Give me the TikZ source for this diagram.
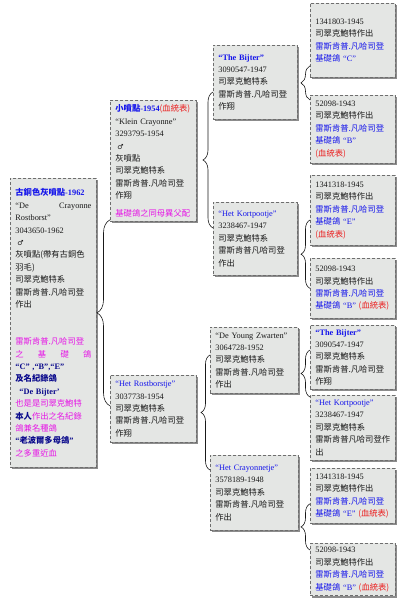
\documentclass[tikz,border=0pt]{standalone}
\usepackage{fontspec}
\setmainfont{Liberation Serif}
\newfontfamily\cjk{Noto Sans CJK TC}
\newfontfamily\symf{DejaVu Sans}
\usepackage{xcolor}
\usetikzlibrary{shadows, decorations.pathreplacing}
\definecolor{cBox}{RGB}{228,230,228}
\definecolor{cEdge}{RGB}{110,110,110}
\definecolor{cInk}{RGB}{25,25,25}
\definecolor{cTitle}{RGB}{20,20,235}
\definecolor{cNavy}{RGB}{10,10,140}
\definecolor{cPink}{RGB}{230,20,230}
\definecolor{cRed}{RGB}{235,30,30}
\newcommand{\zh}[1]{{\cjk #1}}
\newcommand{\male}{{\symf\fontsize{7}{7}\selectfont ♂}}
\tikzset{
	card/.style={rectangle, anchor=north west, draw=cEdge, line width=0.8pt, dash pattern=on 3pt off 2pt,
		fill=cBox, text=cInk, align=left, inner xsep=5pt, inner ysep=4pt,
		font=\fontsize{8.3}{12.4}\selectfont,
		drop shadow={shadow xshift=2pt, shadow yshift=-2pt, fill=black!45, opacity=1}},
	brc/.style={decorate, draw=cInk, line width=0.6pt},
}

\begin{document}
\begin{tikzpicture}[x=1pt, y=-1pt]
	\useasboundingbox (0,0) rectangle (400,599);
	% generation 1
	\node[card, text width=76pt, minimum height=289pt] (root) at (10,178) {
		{\bfseries\color{cTitle}\zh{古銅色灰噴點}-1962}\\
		``De\hfill Crayonne\\
		Rostborst''\\
		3043650-1962\\
		\hspace{2pt}\male\\
		\zh{灰噴點(帶有古銅色}\\
		\zh{羽毛)}\\
		\zh{司翠克鮑特系}\\
		\zh{雷斯肯普.凡哈司登}\\
		\zh{作出}\\[24.8pt]
		{\color{cPink}\zh{雷斯肯普.凡哈司登}}\\
		{\color{cPink}\zh{之\hfill 基\hfill 礎\hfill 鴿}}\\
		{\bfseries\color{cNavy}``C'' ,``B'',``E''}\\
		{\bfseries\color{cNavy}\zh{及名紀錄鴿}}\\
		\hspace{4pt}{\bfseries\color{cNavy}``De Bijter'}\\
		{\color{cPink}\zh{也是是司翠克鮑特}}\\
		{\bfseries\color{cNavy}\zh{本人}}{\color{cPink}\zh{作出之名紀錄}}\\
		{\color{cPink}\zh{鴿兼名種鴿}}\\
		{\bfseries\color{cNavy}``\zh{老波爾多母鴿}''}\\
		{\color{cPink}\zh{之多重近血}}};
	% generation 2
	\node[card, text width=76pt, minimum height=121pt] (kid1) at (110,100) {
		{\bfseries\color{cTitle}\zh{小噴點}-1954}{\color{cRed}\zh{(血統表)}}\\
		``Klein Crayonne''\\
		3293795-1954\\
		\hspace{2pt}\male\\
		\zh{灰噴點}\\
		\zh{司翠克鮑特系}\\
		\zh{雷斯肯普.凡哈司登}\\
		\zh{作翔}\\[5pt]
		{\color{cPink}\zh{基礎鴿之同母異父配}}};
	\node[card, text width=76pt, minimum height=67pt] (kid2) at (110,375) {
		{\color{cTitle}``Het Rostborstje''}\\
		3037738-1954\\
		\zh{司翠克鮑特系}\\
		\zh{雷斯肯普.凡哈司登}\\
		\zh{作翔}};
	% generation 3
	\node[card, text width=74pt, minimum height=74pt] (gk1) at (213,45) {
		{\bfseries\color{cTitle}``The Bijter''}\\
		3090547-1947\\
		\zh{司翠克鮑特系}\\
		\zh{雷斯肯普.凡哈司登}\\
		\zh{作翔}};
	\node[card, text width=74pt, minimum height=73pt] (gk2) at (213,202) {
		{\color{cTitle}``Het Kortpootje''}\\
		3238467-1947\\
		\zh{司翠克鮑特系}\\
		\zh{雷斯肯普凡哈司登}\\
		\zh{作出}};
	\node[card, text width=78pt, minimum height=66pt] (gk3) at (210,327) {
		``De Young Zwarten''\\
		3064728-1952\\
		\zh{司翠克鮑特系}\\
		\zh{雷斯肯普.凡哈司登}\\
		\zh{作出}};
	\node[card, text width=78pt, minimum height=75pt] (gk4) at (210,455) {
		{\color{cTitle}``Het Crayonnetje''}\\
		3578189-1948\\
		\zh{司翠克鮑特系}\\
		\zh{雷斯肯普.凡哈司登}\\
		\zh{作出}};
	% generation 4
	\node[card, text width=75pt, minimum height=74pt] (ggk1) at (310,3) {
		1341803-1945\\
		\zh{司翠克鮑特作出}\\
		{\color{cTitle}\zh{雷斯肯普.凡哈司登}}\\
		{\color{cTitle}\zh{基礎鴿} ``C''}};
	\node[card, text width=75pt, minimum height=68pt] (ggk2) at (310,95) {
		52098-1943\\
		\zh{司翠克鮑特作出}\\
		{\color{cTitle}\zh{雷斯肯普.凡哈司登}}\\
		{\color{cTitle}\zh{基礎鴿} ``B''}\\
		{\color{cRed}\zh{(血統表)}}};
	\node[card, text width=75pt, minimum height=70pt] (ggk3) at (310,175) {
		1341318-1945\\
		\zh{司翠克鮑特作出}\\
		{\color{cTitle}\zh{雷斯肯普.凡哈司登}}\\
		{\color{cTitle}\zh{基礎鴿} ``E''}\\
		{\color{cRed}\zh{(血統表)}}};
	\node[card, text width=75pt, minimum height=60pt] (ggk4) at (310,258) {
		52098-1943\\
		\zh{司翠克鮑特作出}\\
		{\color{cTitle}\zh{雷斯肯普.凡哈司登}}\\
		{\color{cTitle}\zh{基礎鴿} ``B''} {\color{cRed}\zh{(血統表)}}};
	\node[card, text width=75pt, minimum height=62pt] (ggk5) at (310,325) {
		{\bfseries\color{cTitle}``The Bijter''}\\
		3090547-1947\\
		\zh{司翠克鮑特系}\\
		\zh{雷斯肯普.凡哈司登}\\
		\zh{作翔}};
	\node[card, text width=75pt, minimum height=65pt] (ggk6) at (310,395) {
		{\color{cTitle}``Het Kortpootje''}\\
		3238467-1947\\
		\zh{司翠克鮑特系}\\
		\zh{雷斯肯普凡哈司登作}\\
		\zh{出}};
	\node[card, text width=75pt, minimum height=55pt] (ggk7) at (310,468) {
		1341318-1945\\
		\zh{司翠克鮑特作出}\\
		{\color{cTitle}\zh{雷斯肯普.凡哈司登}}\\
		{\color{cTitle}\zh{基礎鴿} ``E''} {\color{cRed}\zh{(血統表)}}};
	\node[card, text width=75pt, minimum height=52pt] (ggk8) at (310,543) {
		52098-1943\\
		\zh{司翠克鮑特作出}\\
		{\color{cTitle}\zh{雷斯肯普.凡哈司登}}\\
		{\color{cTitle}\zh{基礎鴿} ``B''} {\color{cRed}\zh{(血統表)}}};
	% braces
	\draw[brc, decoration={brace, amplitude=13pt}] ([yshift=3pt]kid2.west) -- ([yshift=2pt]kid1.south west);
	\draw[brc, decoration={brace, amplitude=10pt}] ([yshift=-26pt]gk2.north west) -- ([yshift=-47pt]gk1.north west);
	\draw[brc, decoration={brace, amplitude=9pt}] ([yshift=-15pt]gk4.north west) -- ([yshift=-28pt]gk3.north west);
	\draw[brc, decoration={brace, amplitude=9pt}] ([yshift=-5pt]ggk2.north west) -- ([yshift=12pt]ggk1.south west);
	\draw[brc, decoration={brace, amplitude=9pt}] ([yshift=0pt]ggk4.west) -- ([yshift=-45pt]ggk3.north west);
	\draw[brc, decoration={brace, amplitude=9pt}] ([yshift=-2pt]ggk6.north west) -- ([yshift=-25pt]ggk5.north west);
	\draw[brc, decoration={brace, amplitude=9pt}] ([yshift=-7pt]ggk8.north west) -- ([yshift=20pt]ggk7.south west);
\end{tikzpicture}
\end{document}
